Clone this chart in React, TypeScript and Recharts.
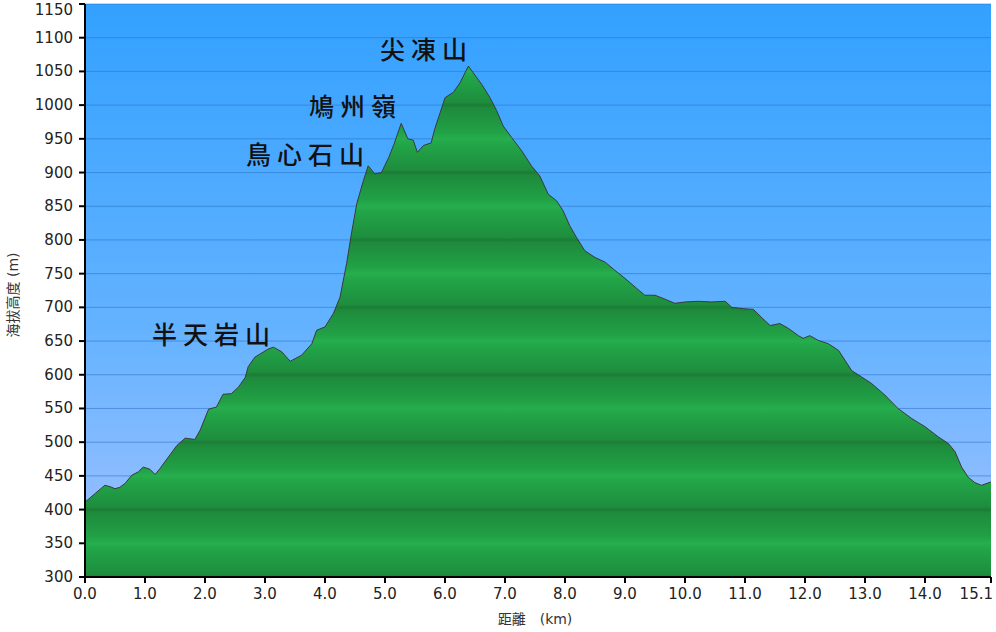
import { Area, AreaChart, CartesianGrid, XAxis, YAxis } from "recharts";

const distanceKm = [
  0.0, 0.17, 0.33, 0.42, 0.5, 0.58, 0.67, 0.78, 0.89, 0.97, 1.08, 1.17, 1.25, 1.39, 1.53, 1.67, 1.83, 1.92,
  2.06, 2.19, 2.3, 2.44, 2.56, 2.67, 2.72, 2.83, 2.94, 3.05, 3.14, 3.28, 3.42, 3.61, 3.78, 3.86, 4.0, 4.14,
  4.25, 4.36, 4.44, 4.53, 4.64, 4.72, 4.83, 4.94, 5.06, 5.15, 5.27, 5.38, 5.47, 5.54, 5.64, 5.77, 5.83, 5.92,
  6.0, 6.14, 6.25, 6.39, 6.47, 6.61, 6.75, 6.86, 6.97, 7.11, 7.28, 7.44, 7.58, 7.72, 7.86, 7.97, 8.08, 8.19,
  8.33, 8.5, 8.67, 8.83, 9.0, 9.17, 9.33, 9.5, 9.67, 9.83, 10.0, 10.22, 10.44, 10.67, 10.78, 10.97, 11.14,
  11.3, 11.42, 11.58, 11.72, 11.89, 11.97, 12.08, 12.22, 12.39, 12.56, 12.67, 12.78, 12.94, 13.11, 13.33,
  13.55, 13.78, 14.0, 14.22, 14.39, 14.5, 14.61, 14.72, 14.83, 14.94, 15.1,
];

const elevationM = [
  411, 424, 436, 434, 431, 433, 439, 451, 456, 463, 460, 452, 461, 478, 495, 506, 504, 518,
  549, 552, 571, 572, 582, 596, 612, 626, 632, 638, 641, 634, 620, 629, 646, 666, 671, 691,
  715, 765, 809, 854, 888, 910, 898, 900, 922, 942, 973, 950, 948, 930, 940, 944, 965, 989,
  1011, 1019, 1033, 1058, 1048, 1031, 1011, 992, 969, 952, 932, 910, 895, 868, 858, 843, 821, 804,
  784, 774, 767, 755, 743, 730, 718, 718, 712, 706, 708, 709, 708, 709, 700, 698, 697,
  683, 673, 676, 669, 658, 654, 658, 651, 646, 636, 621, 606, 597, 587, 570,
  550, 535, 523, 508, 498, 486, 463, 448, 440, 436, 441,
];

const xTicks = [0, 1, 2, 3, 4, 5, 6, 7, 8, 9, 10, 11, 12, 13, 14, 15.1];
const yTicks = [300, 350, 400, 450, 500, 550, 600, 650, 700, 750, 800, 850, 900, 950, 1000, 1050, 1100, 1150];

const peakNames = ["尖凍山", "鳩州嶺", "鳥心石山", "半天岩山"];

const data = distanceKm.map((km, i) => ({ km, elev: elevationM[i] }));

// plot box in page pixels
const W = 996;
const H = 632;
const PLOT_TOP = 4;
const PLOT_BOTTOM = 577;
const pxPerM = (PLOT_BOTTOM - PLOT_TOP) / (1150 - 300);
const yAt = (m: number) => PLOT_BOTTOM - (m - 300) * pxPerM;

const tickFont = "DejaVu Sans, Verdana, sans-serif";
const cjk = "'Noto Sans CJK TC', 'Noto Sans CJK JP', sans-serif";

const labelPos = [
  { left: 380, top: 32 },
  { left: 309, top: 89 },
  { left: 246, top: 137 },
  { left: 152, top: 317 },
];

function XTick(props: any) {
  const { x, y, payload } = props;
  const last = payload.value === xTicks[xTicks.length - 1];
  return (
    <text x={last ? x + 2 : x} y={y + 13} textAnchor={last ? "end" : "middle"} fill="#222" fontSize={15} fontFamily={tickFont}>
      {Number(payload.value).toFixed(1)}
    </text>
  );
}

function YTick(props: any) {
  const { x, y, payload } = props;
  return (
    <text x={x} y={Math.max(y, 10) + 5} textAnchor="end" fill="#222" fontSize={15} fontFamily={tickFont}>
      {payload.value}
    </text>
  );
}

export default function App() {
  return (
    <div style={{ position: "absolute", left: 0, top: 0, width: W, height: H, background: "#fff" }}>
      <AreaChart width={W} height={H} data={data} margin={{ top: PLOT_TOP, right: 5, left: 0, bottom: 25 }}>
        <defs>
          <linearGradient id="sky" x1="0" y1="0" x2="0" y2="1">
            <stop offset="0%" stopColor="#33a1ff" />
            <stop offset="55%" stopColor="#62b2ff" />
            <stop offset="100%" stopColor="#a3c2ff" />
          </linearGradient>
          <linearGradient
            id="hill"
            gradientUnits="userSpaceOnUse"
            spreadMethod="repeat"
            x1="0"
            x2="0"
            y1={yAt(500)}
            y2={yAt(400)}
          >
            <stop offset="0%" stopColor="#1b7c36" />
            <stop offset="4%" stopColor="#1e8a3c" />
            <stop offset="40%" stopColor="#21a146" />
            <stop offset="50%" stopColor="#26ae4d" />
            <stop offset="58%" stopColor="#22a548" />
            <stop offset="96%" stopColor="#1e8d3d" />
            <stop offset="100%" stopColor="#1b7c36" />
          </linearGradient>
        </defs>
        <CartesianGrid vertical={false} fill="url(#sky)" fillOpacity={1} stroke="#2b6fc4" strokeOpacity={0.55} />
        <XAxis
          dataKey="km"
          type="number"
          domain={[0, 15.1]}
          ticks={xTicks}
          height={30}
          tick={<XTick />}
          tickSize={6}
          tickMargin={3}
          axisLine={{ stroke: "#000", strokeWidth: 2 }}
          tickLine={{ stroke: "#000", strokeWidth: 2 }}
          interval={0}
        />
        <YAxis
          domain={[300, 1150]}
          ticks={yTicks}
          width={85}
          tick={<YTick />}
          tickSize={6}
          tickMargin={6}
          axisLine={{ stroke: "#000", strokeWidth: 2 }}
          tickLine={{ stroke: "#000", strokeWidth: 2 }}
          interval={0}
          allowDataOverflow
        />
        <Area
          type="linear"
          dataKey="elev"
          stroke="#3a3a3a"
          strokeWidth={1}
          fill="url(#hill)"
          fillOpacity={1}
          isAnimationActive={false}
          dot={false}
          activeDot={false}
        />
      </AreaChart>

      {peakNames.map((name, i) => (
        <div
          key={name}
          style={{
            position: "absolute",
            left: labelPos[i].left,
            top: labelPos[i].top,
            fontFamily: cjk,
            fontSize: 25,
            fontWeight: 500,
            letterSpacing: 6,
            color: "#111",
            lineHeight: "32px",
            whiteSpace: "nowrap",
          }}
        >
          {name}
        </div>
      ))}

      <div
        style={{
          position: "absolute",
          left: 12,
          top: 295,
          transform: "translate(-50%, -50%) rotate(-90deg)",
          fontFamily: "DejaVu Sans, 'Noto Sans CJK TC', sans-serif",
          fontSize: 14,
          color: "#333",
          whiteSpace: "nowrap",
        }}
      >
        海拔高度 (m)
      </div>
      <div
        style={{
          position: "absolute",
          left: 535,
          top: 618,
          transform: "translate(-50%, -50%)",
          fontFamily: "DejaVu Sans, 'Noto Sans CJK TC', sans-serif",
          fontSize: 14,
          color: "#333",
          whiteSpace: "nowrap",
        }}
      >
        距離　(km)
      </div>
    </div>
  );
}
